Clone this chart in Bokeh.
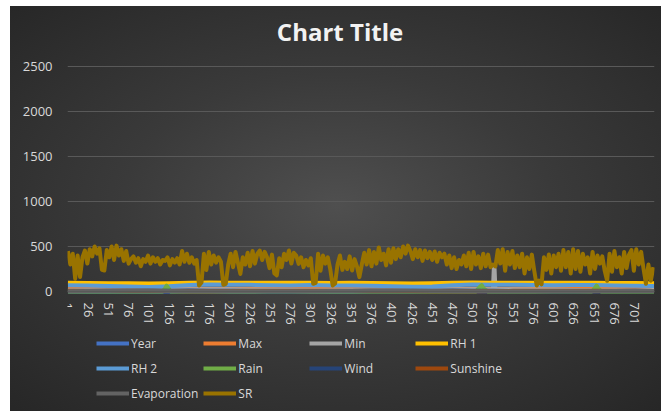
from bokeh.plotting import figure
from bokeh.models import FixedTicker, Label, Legend, LegendItem, Range1d
from bokeh.embed import file_html
from bokeh.resources import INLINE

# ---- data -------------------------------------------------------------
n_days = 725
y_ticks = [0, 500, 1000, 1500, 2000, 2500]
tick_days = [1, 26, 51, 76, 101, 126, 151, 176, 201, 226, 251, 276, 301, 326,
             351, 376, 401, 426, 451, 476, 501, 526, 551, 576, 601, 626, 651,
             676, 701]

# daily series sampled every 25th day
band_days = [1, 26, 51, 76, 101, 126, 151, 176, 201, 226, 251, 276, 301, 326,
             351, 376, 401, 426, 451, 476, 501, 526, 551, 576, 601, 626, 651,
             676, 701, 725]
year = [1, 1, 1, 1, 1, 1, 1, 1, 1, 1, 1, 1, 1, 1, 1,
        2, 2, 2, 2, 2, 2, 2, 2, 2, 2, 2, 2, 2, 2, 2]
max_t = [30, 31, 33, 35, 36, 34, 32, 31, 31, 32, 31, 29, 28, 29, 30,
         32, 34, 36, 35, 33, 31, 31, 32, 31, 30, 28, 29, 30, 32, 33]
rh1 = [96, 95, 93, 91, 89, 92, 97, 99, 98, 97, 96, 96, 97, 95, 96,
       94, 92, 90, 92, 97, 99, 98, 98, 97, 96, 97, 97, 95, 94, 93]
rh2 = [70, 68, 62, 55, 50, 58, 72, 78, 76, 74, 70, 68, 72, 66, 68,
       64, 58, 52, 56, 70, 78, 76, 74, 72, 70, 71, 73, 68, 64, 62]
wind = [5, 6, 7, 8, 9, 8, 10, 9, 7, 5, 4, 4, 5, 5, 6,
        7, 8, 9, 8, 10, 9, 8, 6, 5, 4, 4, 5, 6, 7, 6]
sunshine = [8, 9, 9, 8, 7, 5, 3, 4, 5, 7, 8, 8, 8, 9, 9,
            8, 7, 6, 4, 3, 4, 5, 7, 8, 8, 9, 9, 8, 7, 6]
evaporation = [4, 5, 6, 7, 8, 6, 4, 4, 4, 4, 3, 3, 4, 5, 6,
               7, 8, 7, 5, 4, 4, 4, 4, 3, 3, 3, 4, 5, 6, 6]

min_days = [1, 26, 51, 76, 101, 126, 151, 176, 201, 226, 251, 276, 301, 326,
            351, 376, 401, 426, 451, 476, 501, 526, 527, 528, 529, 551, 576,
            601, 626, 651, 676, 701, 725]
min_t = [15, 17, 20, 23, 26, 26, 25, 24, 24, 23, 20, 16, 13, 14, 16,
         19, 22, 25, 26, 25, 24, 24, 255, 250, 24, 24, 23, 21, 17, 14, 13, 15, 16]

rain_days = [1, 100, 118, 121, 123, 125, 128, 150, 200, 300, 400, 505,
             509, 512, 515, 520, 600, 648, 652, 654, 656, 660, 700, 725]
rain = [0, 0, 0, 35, 65, 40, 0, 0, 0, 0, 0, 0,
        45, 70, 30, 0, 0, 0, 40, 65, 35, 0, 0, 0]

# solar radiation, every third day
sr = [450, 300, 420, 140, 400, 160, 380, 455, 310, 470,
      390, 500, 420, 480, 240, 233, 460, 380, 500, 350,
      510, 400, 470, 340, 450, 310, 360, 390, 320, 370,
      280, 360, 330, 400, 310, 380, 330, 370, 300, 350,
      340, 380, 290, 360, 320, 370, 300, 450, 330, 420,
      320, 380, 310, 350, 67, 100, 420, 240, 440, 300,
      400, 320, 380, 330, 75, 85, 300, 420, 270, 440,
      320, 195, 380, 300, 430, 280, 450, 310, 420, 455,
      350, 440, 380, 260, 410, 200, 180, 370, 270, 420,
      350, 455, 310, 430, 400, 307, 380, 270, 350, 290,
      370, 85, 95, 420, 230, 400, 310, 380, 250, 67,
      90, 300, 400, 240, 330, 250, 390, 233, 360, 280,
      160, 300, 430, 300, 460, 280, 440, 310, 490, 350,
      420, 290, 470, 320, 480, 360, 470, 380, 500, 420,
      510, 450, 360, 470, 380, 460, 340, 455, 370, 440,
      350, 445, 330, 430, 380, 420, 300, 400, 260, 380,
      250, 350, 300, 400, 280, 430, 250, 440, 300, 390,
      260, 420, 280, 410, 270, 300, 280, 460, 310, 470,
      230, 440, 300, 450, 260, 400, 270, 420, 200, 380,
      250, 410, 230, 67, 120, 80, 380, 240, 410, 200,
      400, 270, 420, 230, 460, 270, 440, 200, 470, 250,
      450, 220, 420, 300, 380, 200, 440, 250, 400, 310,
      390, 230, 120, 420, 220, 450, 270, 380, 200, 440,
      260, 410, 460, 230, 470, 300, 440, 250, 85, 300,
      120, 270]
sr_days = list(range(1, 3 * len(sr), 3))

series = [
    ("Year", band_days, year, "#4472C4"),
    ("Max", band_days, max_t, "#ED7D31"),
    ("Min", min_days, min_t, "#A5A5A5"),
    ("RH 1", band_days, rh1, "#FFC000"),
    ("RH 2", band_days, rh2, "#5B9BD5"),
    ("Rain", rain_days, rain, "#70AD47"),
    ("Wind", band_days, wind, "#264478"),
    ("Sunshine", band_days, sunshine, "#9E480E"),
    ("Evaporation", band_days, evaporation, "#636363"),
    ("SR", sr_days, sr, "#997300"),
]

# ---- figure -----------------------------------------------------------
# The frame covers the full canvas height so the title and legend can sit
# inside it; the value scale puts 2500 at y=66 px and 0 at y=291 px, and the
# category axis is pinned at value 0.
canvas_w, canvas_h = 661, 411
top_px, zero_px = 66, 291
y_max = 2500
per_px = y_max / (zero_px - top_px)
y_lo = -(canvas_h - zero_px) * per_px
y_hi = y_max + top_px * per_px

p = figure(width=canvas_w, height=canvas_h, output_backend="svg",
           toolbar_location=None, title=None,
           x_range=Range1d(0.5, n_days + 0.5), y_range=Range1d(y_lo, y_hi),
           min_border_left=67, min_border_right=7,
           min_border_top=0, min_border_bottom=0)

p.background_fill_color = None
p.border_fill_color = None
p.outline_line_color = None
p.styles = {
    "background": (
        "linear-gradient(#ffffff,#ffffff) 0 0/10px 100% no-repeat, "
        "linear-gradient(#ffffff,#ffffff) 0 0/100% 6px no-repeat, "
        "radial-gradient(ellipse farthest-corner at 51% 50%, "
        "#4f4f4f 0%, #3a3a3a 45%, #262626 100%)"
    )
}

label_color = "#d9d9d9"

p.add_layout(Label(x=272.5, y=canvas_h - 31, x_units="screen", y_units="screen",
                   text="Chart Title", text_align="center",
                   text_baseline="middle", text_font="Open Sans",
                   text_font_size="24px", text_font_style="bold",
                   text_color="#f2f2f2"))

p.yaxis.ticker = FixedTicker(ticks=y_ticks)
p.yaxis.axis_line_color = None
p.yaxis.major_tick_line_color = None
p.yaxis.minor_tick_line_color = None
p.yaxis.major_label_standoff = 9
p.yaxis.major_label_text_font = "Open Sans"
p.yaxis.major_label_text_font_size = "13px"
p.yaxis.major_label_text_color = label_color

p.xaxis.fixed_location = 0
p.xaxis.ticker = FixedTicker(ticks=tick_days)
p.xaxis.axis_line_color = "#595959"
p.xaxis.major_tick_line_color = None
p.xaxis.minor_tick_line_color = None
p.xaxis.major_label_orientation = "vertical"
p.xaxis.major_label_standoff = 5
p.xaxis.major_label_text_font = "Open Sans"
p.xaxis.major_label_text_font_size = "13px"
p.xaxis.major_label_text_color = label_color

p.xgrid.grid_line_color = None
p.ygrid.grid_line_color = "#595959"
p.ygrid.grid_line_width = 1

items = []
for name, days, vals, color in series:
    r = p.line(days, vals, line_color=color, line_width=4,
               line_join="round")
    items.append(LegendItem(label=name, renderers=[r]))

legend = Legend(items=items, ncols=4, orientation="horizontal",
                location=(29, 8), padding=0, margin=0,
                glyph_width=33, glyph_height=20, label_height=20,
                label_width=66, label_standoff=2, spacing=5,
                label_text_font="Open Sans", label_text_font_size="12px",
                label_text_color=label_color,
                background_fill_alpha=0, border_line_color=None)
p.add_layout(legend, "center")

open("out.html", "w").write(file_html(p, INLINE))
